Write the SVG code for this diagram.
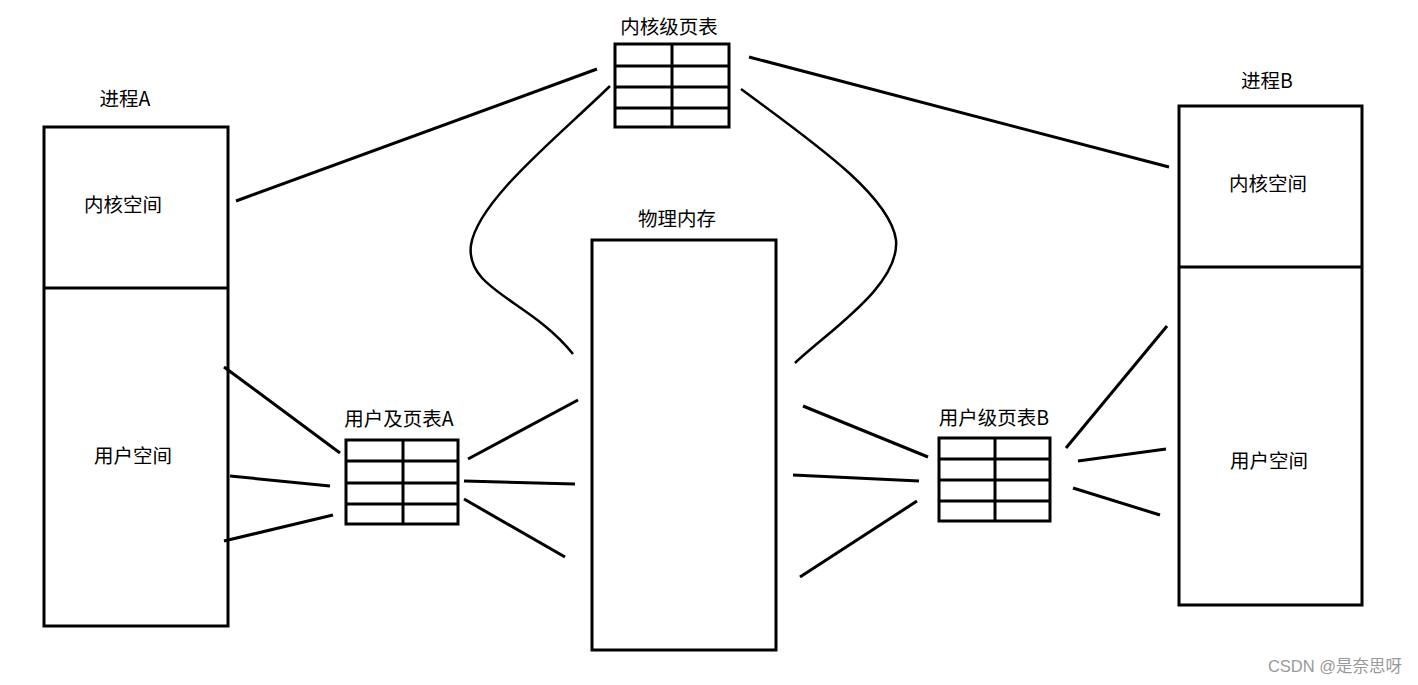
<svg xmlns="http://www.w3.org/2000/svg" width="1418" height="685" viewBox="0 0 1418 685">
<style>
.box{fill:none;stroke:#000;stroke-width:3}
.ln{fill:none;stroke:#000;stroke-width:3}
.cv{fill:none;stroke:#000;stroke-width:2.5}
.t{font-family:"Noto Sans CJK SC","Microsoft YaHei",sans-serif;font-size:19.5px;fill:#000;text-anchor:middle}
.wm{font-family:"Liberation Sans","Noto Sans CJK SC",sans-serif;font-size:16.5px;fill:#999;text-anchor:middle}
</style>
<rect width="1418" height="685" fill="#fff"/>
<g id="procA">
<rect class="box" x="44" y="127" width="184" height="499"/>
<line class="box" x1="44" y1="288" x2="228" y2="288"/>
<text class="t" x="125" y="106">进程A</text>
<text class="t" x="123" y="212">内核空间</text>
<text class="t" x="133" y="463">用户空间</text>
</g>
<g id="procB">
<rect class="box" x="1179" y="106" width="183" height="499"/>
<line class="box" x1="1179" y1="267" x2="1362" y2="267"/>
<text class="t" x="1267" y="88">进程B</text>
<text class="t" x="1268" y="191">内核空间</text>
<text class="t" x="1269" y="468">用户空间</text>
</g>
<g id="mem">
<rect class="box" x="592" y="240" width="184" height="410"/>
<text class="t" x="677" y="226">物理内存</text>
</g>
<g id="ktable">
<rect class="box" x="615" y="44" width="114" height="83"/>
<line class="box" x1="672" y1="44" x2="672" y2="127"/>
<line class="box" x1="615" y1="66" x2="729" y2="66"/>
<line class="box" x1="615" y1="87" x2="729" y2="87"/>
<line class="box" x1="615" y1="108" x2="729" y2="108"/>
<text class="t" x="669" y="34">内核级页表</text>
</g>
<g id="tableA">
<rect class="box" x="346" y="440" width="112" height="84"/>
<line class="box" x1="403" y1="440" x2="403" y2="524"/>
<line class="box" x1="346" y1="461" x2="458" y2="461"/>
<line class="box" x1="346" y1="483" x2="458" y2="483"/>
<line class="box" x1="346" y1="504" x2="458" y2="504"/>
<text class="t" x="399" y="426">用户及页表A</text>
</g>
<g id="tableB">
<rect class="box" x="939" y="438" width="111" height="83"/>
<line class="box" x1="995" y1="438" x2="995" y2="521"/>
<line class="box" x1="939" y1="459" x2="1050" y2="459"/>
<line class="box" x1="939" y1="480" x2="1050" y2="480"/>
<line class="box" x1="939" y1="501" x2="1050" y2="501"/>
<text class="t" x="994" y="425">用户级页表B</text>
</g>
<g id="connectors">
<line class="ln" x1="236" y1="201" x2="597" y2="69"/>
<line class="ln" x1="749" y1="57" x2="1169" y2="167"/>
<line class="ln" x1="224" y1="367" x2="340" y2="453"/>
<line class="ln" x1="230" y1="476" x2="330" y2="486"/>
<line class="ln" x1="224" y1="541" x2="333" y2="515"/>
<line class="ln" x1="468" y1="459" x2="578" y2="400"/>
<line class="ln" x1="464" y1="481" x2="575" y2="484"/>
<line class="ln" x1="464" y1="499" x2="565" y2="557"/>
<line class="ln" x1="803" y1="406" x2="928" y2="457"/>
<line class="ln" x1="793" y1="475" x2="919" y2="481"/>
<line class="ln" x1="800" y1="577" x2="917" y2="501"/>
<line class="ln" x1="1066" y1="448" x2="1167" y2="326"/>
<line class="ln" x1="1078" y1="461" x2="1166" y2="449"/>
<line class="ln" x1="1073" y1="488" x2="1160" y2="515"/>
<path class="cv" d="M610,86 C560,135 478,200 471,245 C465,290 530,300 573,354"/>
<path class="cv" d="M741,89 C810,140 890,195 896,240 C900,285 830,330 795,363"/>
</g>
<text class="wm" x="1335" y="672">CSDN @是奈思呀</text>
</svg>
